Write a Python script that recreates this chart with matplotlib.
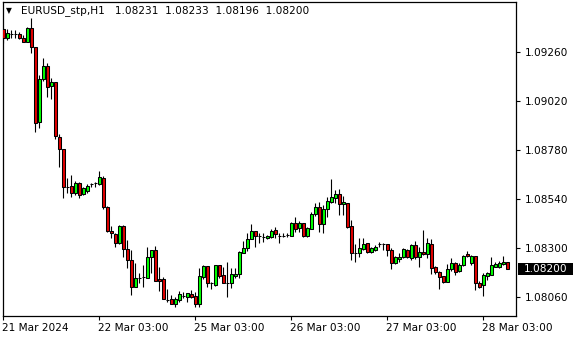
import matplotlib
matplotlib.use("Agg")
import matplotlib.pyplot as plt
from matplotlib.patches import Rectangle
import matplotlib.transforms as mtransforms

symbol = "EURUSD_stp"
timeframe = "H1"

opens = [1.09371, 1.09327, 1.09346, 1.09345, 1.09346, 1.09327, 1.09307, 1.09376, 1.09283, 1.08916,
         1.09127, 1.09190, 1.09093, 1.09112, 1.08845, 1.08785, 1.08599, 1.08604, 1.08569, 1.08618,
         1.08564, 1.08579, 1.08613, 1.08617, 1.08613, 1.08643, 1.08501, 1.08384, 1.08370, 1.08325,
         1.08409, 1.08296, 1.08242, 1.08111, 1.08154, 1.08157, 1.08154, 1.08257, 1.08291, 1.08150,
         1.08150, 1.08049, 1.08052, 1.08027, 1.08047, 1.08066, 1.08062, 1.08077, 1.08067, 1.08027,
         1.08159, 1.08213, 1.08130, 1.08121, 1.08218, 1.08169, 1.08130, 1.08130, 1.08164, 1.08174,
         1.08276, 1.08301, 1.08345, 1.08384, 1.08360, 1.08355, 1.08350, 1.08355, 1.08389, 1.08360,
         1.08361, 1.08364, 1.08360, 1.08423, 1.08399, 1.08423, 1.08360, 1.08394, 1.08467, 1.08501,
         1.08418, 1.08491, 1.08525, 1.08545, 1.08564, 1.08516, 1.08520, 1.08409, 1.08276, 1.08276,
         1.08296, 1.08325, 1.08281, 1.08291, 1.08320, 1.08321, 1.08320, 1.08291, 1.08227, 1.08247,
         1.08257, 1.08291, 1.08252, 1.08316, 1.08257, 1.08281, 1.08271, 1.08320, 1.08208, 1.08184,
         1.08164, 1.08135, 1.08198, 1.08227, 1.08188, 1.08218, 1.08271, 1.08227, 1.08262, 1.08130,
         1.08121, 1.08164, 1.08169, 1.08208, 1.08208, 1.08222, 1.08231]
highs = [1.09375, 1.09371, 1.09366, 1.09366, 1.09356, 1.09342, 1.09381, 1.09425, 1.09285, 1.09147,
         1.09229, 1.09204, 1.09132, 1.09114, 1.08857, 1.08787, 1.08643, 1.08658, 1.08628, 1.08623,
         1.08599, 1.08613, 1.08618, 1.08623, 1.08677, 1.08653, 1.08506, 1.08409, 1.08374, 1.08414,
         1.08411, 1.08340, 1.08291, 1.08227, 1.08178, 1.08218, 1.08306, 1.08293, 1.08311, 1.08208,
         1.08159, 1.08101, 1.08072, 1.08062, 1.08091, 1.08086, 1.08082, 1.08096, 1.08086, 1.08203,
         1.08218, 1.08215, 1.08135, 1.08220, 1.08220, 1.08208, 1.08232, 1.08203, 1.08203, 1.08286,
         1.08335, 1.08374, 1.08418, 1.08386, 1.08374, 1.08374, 1.08365, 1.08394, 1.08404, 1.08374,
         1.08374, 1.08374, 1.08428, 1.08453, 1.08433, 1.08425, 1.08404, 1.08477, 1.08520, 1.08525,
         1.08511, 1.08550, 1.08638, 1.08584, 1.08589, 1.08555, 1.08522, 1.08438, 1.08320, 1.08350,
         1.08350, 1.08327, 1.08306, 1.08316, 1.08330, 1.08325, 1.08322, 1.08301, 1.08262, 1.08276,
         1.08301, 1.08296, 1.08320, 1.08335, 1.08306, 1.08389, 1.08350, 1.08345, 1.08213, 1.08188,
         1.08166, 1.08222, 1.08252, 1.08232, 1.08227, 1.08267, 1.08286, 1.08267, 1.08264, 1.08140,
         1.08178, 1.08184, 1.08257, 1.08232, 1.08237, 1.08262, 1.08233]
lows = [1.09302, 1.09317, 1.09327, 1.09327, 1.09322, 1.09305, 1.09305, 1.09253, 1.08867, 1.08887,
        1.09117, 1.09039, 1.09029, 1.08833, 1.08697, 1.08545, 1.08569, 1.08550, 1.08560, 1.08545,
        1.08560, 1.08569, 1.08599, 1.08599, 1.08611, 1.08491, 1.08379, 1.08350, 1.08306, 1.08320,
        1.08257, 1.08203, 1.08072, 1.08109, 1.08130, 1.08111, 1.08152, 1.08178, 1.08140, 1.08091,
        1.08050, 1.08037, 1.08027, 1.08013, 1.08037, 1.08057, 1.08037, 1.08057, 1.08013, 1.08013,
        1.08150, 1.08111, 1.08101, 1.08116, 1.08155, 1.08130, 1.08062, 1.08106, 1.08155, 1.08155,
        1.08276, 1.08286, 1.08345, 1.08306, 1.08325, 1.08330, 1.08345, 1.08350, 1.08350, 1.08325,
        1.08355, 1.08355, 1.08358, 1.08379, 1.08379, 1.08355, 1.08355, 1.08392, 1.08458, 1.08379,
        1.08374, 1.08453, 1.08523, 1.08520, 1.08462, 1.08462, 1.08399, 1.08242, 1.08232, 1.08257,
        1.08291, 1.08276, 1.08276, 1.08286, 1.08306, 1.08291, 1.08262, 1.08198, 1.08222, 1.08232,
        1.08252, 1.08252, 1.08242, 1.08247, 1.08208, 1.08267, 1.08252, 1.08174, 1.08174, 1.08101,
        1.08130, 1.08133, 1.08188, 1.08169, 1.08184, 1.08213, 1.08257, 1.08218, 1.08096, 1.08106,
        1.08067, 1.08145, 1.08167, 1.08206, 1.08203, 1.08218, 1.08196]
closes = [1.09327, 1.09351, 1.09347, 1.09347, 1.09327, 1.09307, 1.09376, 1.09283, 1.08911, 1.09127,
          1.09190, 1.09088, 1.09112, 1.08848, 1.08785, 1.08599, 1.08601, 1.08569, 1.08618, 1.08560,
          1.08594, 1.08604, 1.08614, 1.08618, 1.08648, 1.08501, 1.08384, 1.08374, 1.08325, 1.08409,
          1.08296, 1.08242, 1.08111, 1.08154, 1.08155, 1.08159, 1.08257, 1.08291, 1.08140, 1.08140,
          1.08052, 1.08047, 1.08027, 1.08052, 1.08077, 1.08067, 1.08081, 1.08062, 1.08027, 1.08164,
          1.08213, 1.08130, 1.08131, 1.08218, 1.08164, 1.08130, 1.08128, 1.08174, 1.08174, 1.08281,
          1.08301, 1.08345, 1.08384, 1.08360, 1.08361, 1.08356, 1.08360, 1.08384, 1.08370, 1.08361,
          1.08360, 1.08366, 1.08423, 1.08394, 1.08423, 1.08360, 1.08399, 1.08467, 1.08501, 1.08418,
          1.08491, 1.08530, 1.08550, 1.08564, 1.08516, 1.08525, 1.08404, 1.08276, 1.08274, 1.08301,
          1.08320, 1.08281, 1.08301, 1.08306, 1.08321, 1.08320, 1.08291, 1.08227, 1.08257, 1.08257,
          1.08296, 1.08257, 1.08316, 1.08257, 1.08281, 1.08271, 1.08325, 1.08203, 1.08184, 1.08159,
          1.08135, 1.08198, 1.08227, 1.08184, 1.08218, 1.08262, 1.08262, 1.08262, 1.08130, 1.08111,
          1.08169, 1.08178, 1.08218, 1.08222, 1.08227, 1.08232, 1.08200]

tick_bars = [0, 24, 48, 72, 96, 120]
tick_labels = ["21 Mar 2024", "22 Mar 03:00", "25 Mar 03:00", "26 Mar 03:00", "27 Mar 03:00", "28 Mar 03:00"]
price_ticks = [1.08060, 1.08300, 1.08540, 1.08780, 1.09020, 1.09260]

UP = "#00FF00"
DOWN = "#E00000"
FS = 7.6

fig = plt.figure(figsize=(5.8, 3.4), dpi=100)
fig.patch.set_facecolor("white")
W, H = 580.0, 340.0
L, R, T, B = 2.5, 515.7, 2.0, 316.0
ax = fig.add_axes([L / W, 1 - B / H, (R - L) / W, (B - T) / H])
YMIN, YMAX = 1.079686, 1.095028

n = len(closes)
xs = list(range(n))
ax.vlines(xs, lows, highs, color="black", linewidth=0.8, zorder=2)
bottoms = [min(o, c) for o, c in zip(opens, closes)]
heights = [abs(c - o) for o, c in zip(opens, closes)]
colors = [UP if c > o else DOWN for o, c in zip(opens, closes)]
ax.bar(xs, heights, bottom=bottoms, width=0.62, color=colors, edgecolor="black",
       linewidth=0.75, zorder=3)

ax.set_xlim(-0.2, 128.1)
ax.set_ylim(YMIN, YMAX)

for s in ax.spines.values():
    s.set_color("black")
    s.set_linewidth(0.9)

ax.yaxis.tick_right()
ax.set_yticks(price_ticks)
ax.set_yticklabels([f"{p:.5f}" for p in price_ticks])
ax.tick_params(axis="y", direction="out", length=3, width=0.8, pad=3.5, labelsize=FS, colors="black")
ax.set_xticks(tick_bars)
ax.set_xticklabels(tick_labels, ha="left")
ax.tick_params(axis="x", direction="out", length=3, width=0.8, pad=2, labelsize=FS, colors="black")
for lbl in ax.get_xticklabels():
    lbl.set_horizontalalignment("left")
    lbl.set_transform(lbl.get_transform() + mtransforms.ScaledTranslation(-1 / 100, 0, fig.dpi_scale_trans))

# current price box
trans = ax.get_yaxis_transform()
last = closes[-1]
box_h = 12 / (B - T) * (YMAX - YMIN)
ax.add_patch(Rectangle((1.0039, last - box_h / 2), 0.1085, box_h, transform=trans,
                       facecolor="black", edgecolor="none", clip_on=False, zorder=5))
ax.text(1.0165, last, f"{last:.5f}", transform=trans, ha="left", va="center",
        color="white", fontsize=FS, clip_on=False, zorder=6)

# header
fig.text(6 / W, 1 - 11 / H, "\u25bc", fontsize=5.5, va="center", ha="left", color="black")
header = f"{symbol},{timeframe}   " + "  ".join(
    f"{v:.5f}" for v in (opens[-1], highs[-1], lows[-1], closes[-1]))
fig.text(21 / W, 1 - 11 / H, header, fontsize=FS, va="center", ha="left", color="black")

fig.savefig("out.png", dpi=100, facecolor="white")
